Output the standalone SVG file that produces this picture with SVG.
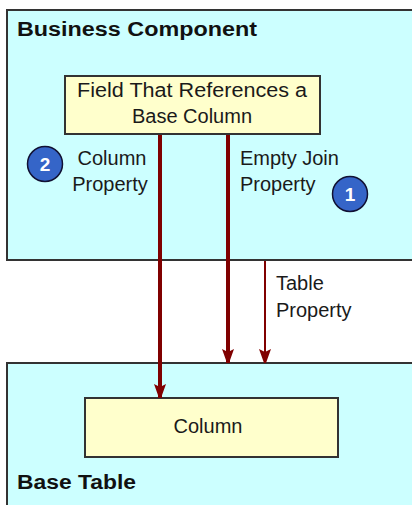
<svg xmlns="http://www.w3.org/2000/svg" width="412" height="505" viewBox="0 0 412 505">
<defs>
<style>
.cont{fill:#ccffff;stroke:#333333;stroke-width:2}
.box{fill:#ffffcc;stroke:#333333;stroke-width:2}
.t{font-family:"Liberation Sans",Arial,sans-serif;font-size:20px;fill:#1a1a1a}
.tb{font-family:"Liberation Sans",Arial,sans-serif;font-size:20px;font-weight:bold;fill:#111111}
.badge{fill:#3565c8;stroke:#111133;stroke-width:1.5}
.num{font-family:"Liberation Sans",Arial,sans-serif;font-size:19px;font-weight:bold;fill:#ffffff}
.thick{stroke:#800000;stroke-width:4;fill:none}
.thin{stroke:#800000;stroke-width:2;fill:none}
</style>
<marker id="ah" viewBox="0 0 12 14" refX="6" refY="14" markerWidth="12" markerHeight="14" markerUnits="userSpaceOnUse" orient="auto-start-reverse">
<path d="M0,0 L6,3 L12,0 L7,14 L5,14 Z" fill="#800000"/>
</marker>
<marker id="ahd" viewBox="0 0 12 14" refX="6" refY="14" markerWidth="12" markerHeight="14" markerUnits="userSpaceOnUse" orient="0">
<path d="M0,0 L6,3 L12,0 L7,14 L5,14 Z" fill="#800000"/>
</marker>
</defs>
<rect width="412" height="505" fill="#ffffff"/>
<g id="business-component">
<rect class="cont" x="7" y="10" width="420" height="250"/>
<text class="tb" x="17" y="36" textLength="240" lengthAdjust="spacingAndGlyphs">Business Component</text>
</g>
<g id="base-table">
<rect class="cont" x="7" y="363" width="420" height="160"/>
<text class="tb" x="17" y="489" textLength="119" lengthAdjust="spacingAndGlyphs">Base Table</text>
</g>
<g id="field">
<rect class="box" x="65" y="76" width="255" height="58"/>
<text class="t" x="192" y="97" text-anchor="middle" textLength="230" lengthAdjust="spacingAndGlyphs">Field That References a</text>
<text class="t" x="192" y="123" text-anchor="middle">Base Column</text>
</g>
<g id="column">
<rect class="box" x="85" y="398" width="253" height="59"/>
<text class="t" x="208" y="433" text-anchor="middle">Column</text>
</g>
<g id="connectors">
<line class="thick" x1="160" y1="135" x2="160" y2="398" marker-end="url(#ahd)"/>
<line class="thick" x1="228" y1="135" x2="228" y2="363" marker-end="url(#ahd)"/>
<line class="thin" x1="265" y1="261" x2="265" y2="363" marker-end="url(#ahd)"/>
</g>
<g id="labels">
<text class="t" x="112" y="165" text-anchor="middle">Column</text>
<text class="t" x="110" y="191" text-anchor="middle">Property</text>
<text class="t" x="240" y="165">Empty Join</text>
<text class="t" x="240" y="191">Property</text>
<text class="t" x="276" y="290">Table</text>
<text class="t" x="276" y="317">Property</text>
</g>
<g id="badge-2">
<circle class="badge" cx="45" cy="164" r="17.5"/>
<text class="num" x="45" y="171" text-anchor="middle">2</text>
</g>
<g id="badge-1">
<circle class="badge" cx="350" cy="194" r="17.5"/>
<text class="num" x="350" y="201" text-anchor="middle">1</text>
</g>
</svg>
